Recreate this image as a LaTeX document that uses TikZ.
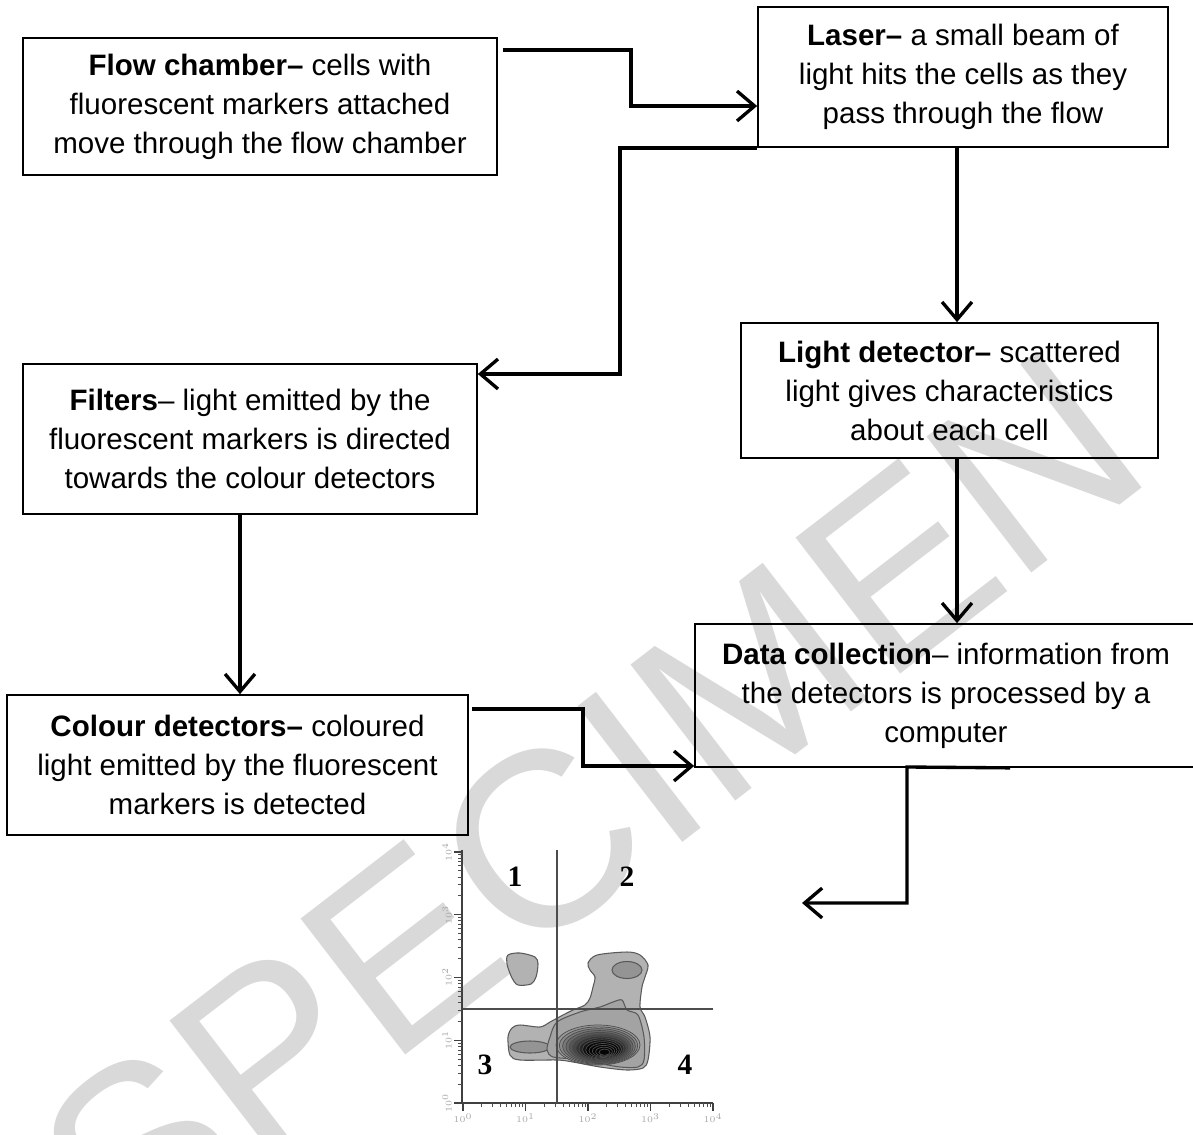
\documentclass[tikz,border=0pt]{standalone}
\usepackage{fontspec}
\setmainfont{Liberation Sans}
\newfontfamily\quadfont{Liberation Serif}
\usetikzlibrary{arrows.meta}
\usetikzlibrary{calc}

\tikzset{
  stagebox/.style={draw, line width=1pt, align=center, inner sep=0pt, font=\fontsize{16.8}{22.2}\selectfont},
  flowarrow/.style={line width=1.9pt, -{Straight Barb[length=10pt,width=17pt]}},
  contour/.style={draw=black!65, line width=0.6pt},
  quadlabel/.style={font=\quadfont\bfseries\fontsize{16.8}{18}\selectfont},
  ticklabel/.style={font=\fontsize{4.5}{5}\selectfont, text=black!35, inner sep=1pt},
}

\begin{document}
\begin{tikzpicture}[x=0.02cm, y=-0.02cm]

        \useasboundingbox (0,0) rectangle (1193,1135);

        % watermark
        \node[rotate=37.6, text=black!15, font=\fontsize{142}{142}\selectfont, inner sep=0pt] (mark) at (590,805) {SPECIMEN};

        \node[stagebox, minimum width=9.48cm, minimum height=2.74cm] (flow) at (260,106.5)
            {\textbf{Flow chamber–} cells with\\fluorescent markers attached\\move through the flow chamber};
        \node[stagebox, minimum width=8.2cm, minimum height=2.8cm] (laser) at (963,77)
            {\textbf{Laser–} a small beam of\\light hits the cells as they\\pass through the flow};
        \node[stagebox, minimum width=8.34cm, minimum height=2.7cm] (light) at (949.5,390.5)
            {\textbf{Light detector–} scattered\\light gives characteristics\\about each cell};
        \node[stagebox, minimum width=9.08cm, minimum height=3cm] (filters) at (250,439)
            {\textbf{Filters}– light emitted by the\\fluorescent markers is directed\\towards the colour detectors};
        \node[stagebox, minimum width=9.22cm, minimum height=2.8cm] (colour) at (237.5,765)
            {\textbf{Colour detectors–} coloured\\light emitted by the fluorescent\\markers is detected};
        \node[stagebox, minimum width=10.04cm, minimum height=2.86cm] (data) at (946,695.5)
            {\textbf{Data collection}– information from\\the detectors is processed by a\\computer};

        \coordinate (flowbend) at (631,106);
        \coordinate (laserbend) at (620,374);
        \coordinate (lightx) at (957,0);
        \coordinate (filterx) at (240,0);
        \coordinate (colourbend) at (583,766);
        \coordinate (dataout) at (1010,0);
        \coordinate (databend) at (907,767);
        \coordinate (plotin) at (802,903);

        \path[draw, flowarrow] ($(flow.north east)+(5,13)$) -| (flowbend) -- (laser.west |- flowbend);
        \path[draw, flowarrow] (laser.south west) -| (laserbend) -- (filters.east |- laserbend);
        \path[draw, flowarrow] (laser.south -| lightx) -- (light.north -| lightx);
        \path[draw, flowarrow] (light.south -| lightx) -- (data.north -| lightx);
        \path[draw, flowarrow] (filters.south -| filterx) -- (colour.north -| filterx);
        \path[draw, flowarrow] ($(colour.north east)+(3,15)$) -| (colourbend) -- (data.west |- colourbend);
        \path[draw, flowarrow] (data.south -| dataout) -- (databend) |- (plotin);

        % contour plot
        \path[contour, fill=black!30] plot[smooth cycle] coordinates {(508,955) (520,953) (535,957) (538,964) (536,977) (531,984) (518,985) (512,978) (507,964)};
        \path[contour, fill=black!30] plot[smooth cycle] coordinates {(588,963) (597,955) (627,952) (640,955) (648,965) (645,977) (642,987) (640,1007) (645,1017) (650,1037) (648,1060) (643,1068) (627,1070) (600,1067) (573,1062) (557,1060) (520,1060) (510,1055) (508,1037) (512,1028) (520,1025) (540,1027) (550,1022) (563,1015) (573,1010) (585,1005) (590,998) (593,987) (595,977) (590,970)};
        \path[contour, fill=black!42] (627,970) ellipse [x radius=15, y radius=8.5];
        \path[contour, fill=black!42] (530,1047) ellipse [x radius=20, y radius=6];
        \path[contour, fill=black!36] plot[smooth cycle] coordinates {(557,1022) (580,1012) (600,1007) (613,1002) (622,1000) (627,1010) (638,1015) (644,1037) (644,1060) (638,1067) (620,1067) (597,1063) (573,1059) (553,1057) (547,1050) (550,1037)};
        \foreach \i [evaluate=\i as \tone using {int(min(98,40+6.5*\i))}, evaluate=\i as \rx using {42-2.8*\i}, evaluate=\i as \ry using {20-1.3*\i}] in {0,...,13}
            \path[draw=black!70, line width=0.4pt, fill=black!\tone] ({598+0.5*\i},{1045+0.55*\i}) ellipse [x radius=\rx, y radius=\ry];

        % axes
        \path[draw, black!75, line width=1.2pt] (462,850) -- (462,1103) -- (713,1103);
        \foreach \d in {0,...,3}
            \foreach \m in {2,...,9} {
                \path[draw, black!70, line width=0.5pt] ({463+62.5*(\d+log10(\m))},1103) -- ++(0,4);
                \path[draw, black!70, line width=0.5pt] (462,{1103-62.75*(\d+log10(\m))}) -- ++(-4,0);
            }
        \foreach \d in {0,...,4} {
            \path[draw, black!75, line width=0.8pt] ({463+62.5*\d},1103) -- ++(0,8) node[below, ticklabel] (xt\d) {$10^{\d}$};
            \path[draw, black!75, line width=0.8pt] (462,{1103-62.75*\d}) -- ++(-8,0) node[left, ticklabel, rotate=90, anchor=south] (yt\d) {$10^{\d}$};
        }

        % quadrant gates
        \path[draw, black!70, line width=0.9pt] (557,850) -- (557,1103);
        \path[draw, black!70, line width=0.9pt] (463,1009) -- (713,1009);

        \node[quadlabel] (q1) at (515,877) {1};
        \node[quadlabel] (q2) at (627,877) {2};
        \node[quadlabel] (q3) at (485,1065) {3};
        \node[quadlabel] (q4) at (685,1065) {4};

\end{tikzpicture}
\end{document}
